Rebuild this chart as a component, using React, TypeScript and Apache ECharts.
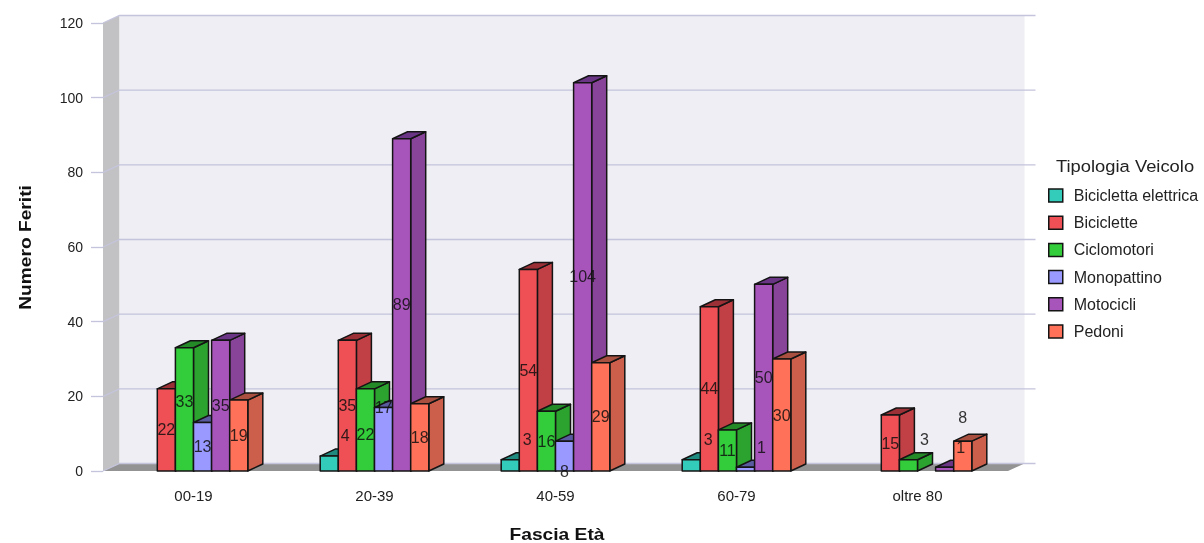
import React, { useEffect, useRef } from "react";
import * as echarts from "echarts";

const categories = ["00-19", "20-39", "40-59", "60-79", "oltre 80"];
const seriesNames = ["Bicicletta elettrica", "Biciclette", "Ciclomotori", "Monopattino", "Motocicli", "Pedoni"];
const biciclettaElettrica = [null, 4, 3, 3, null];
const biciclette = [22, 35, 54, 44, 15];
const ciclomotori = [33, 22, 16, 11, 3];
const monopattino = [13, 17, 8, 1, null];
const motocicli = [35, 89, 104, 50, 1];
const pedoni = [19, 18, 29, 30, 8];
const seriesValues = [biciclettaElettrica, biciclette, ciclomotori, monopattino, motocicli, pedoni];
const yTicks = [0, 20, 40, 60, 80, 100, 120];

const frontColors = ["#33CCBB", "#EE5055", "#33CC3A", "#9999FF", "#A855BB", "#FF7259"];
const topColors = ["#1F8A80", "#9C3037", "#248A28", "#5A5AA0", "#6A3585", "#AA5040"];
const sideColors = ["#27A094", "#C04045", "#2CA32F", "#7A7AC8", "#884499", "#CC5F4C"];

const DX = 15;
const DY = 7;
const WALL_DY = 7.5;
const WALL_DX = 16.5;
const GRID_OVERHANG = 11;

// label shifts from the middle of a bar's front face: "series,category": [dx, dy]
const labelShifts: Record<string, [number, number]> = {
  "2,0": [0, -8],
  "0,1": [16, -28],
  "2,1": [0, 5],
  "3,1": [0, -32],
  "0,2": [17, -26],
  "3,2": [0, 15],
  "0,3": [17, -26],
  "3,3": [16, -22],
  "2,4": [16, -26],
  "4,4": [16, -22],
  "5,4": [0, -39],
};

const wallsRender = (params: any, api: any) => {
  const cs = params.coordSys;
  const y0 = api.coord([0, 0])[1];
  const yT = api.coord([0, 120])[1];
  const l = cs.x, r = cs.x + cs.width;
  return {
    type: "group",
    children: [
      { type: "polygon", shape: { points: [[l, y0], [l, yT], [l + WALL_DX, yT - WALL_DY], [l + WALL_DX, y0 - WALL_DY]] }, style: { fill: "#C2C2C4" } },
      { type: "rect", shape: { x: l + WALL_DX, y: yT - WALL_DY, width: r - l, height: y0 - yT }, style: { fill: "#EEEEF4" } },
      { type: "polygon", shape: { points: [[l, y0], [l + WALL_DX, y0 - WALL_DY], [r + WALL_DX, y0 - WALL_DY], [r, y0]] }, style: { fill: "#939393" } },
    ],
  };
};

const gridRender = (params: any, api: any) => {
  const cs = params.coordSys;
  const y = api.coord([0, api.value(1)])[1];
  const l = cs.x, r = cs.x + cs.width;
  const lineStyle = { stroke: "#C4C4DC", lineWidth: 1.3, fill: "none" };
  return {
    type: "polyline",
    shape: { points: [[l, y], [l + WALL_DX, y - WALL_DY], [r + WALL_DX + GRID_OVERHANG, y - WALL_DY]] },
    style: lineStyle,
  };
};

const barRender = (s: number) => (params: any, api: any) => {
  const cat = api.value(0);
  const v = api.value(1);
  const [cx, y0] = api.coord([cat, 0]);
  const yV = api.coord([cat, v])[1];
  const slot = api.size([1, 0])[0] * 0.1;
  const x0 = cx + (s - 3) * slot;
  const x1 = x0 + slot;
  const edge = { stroke: "#141414", lineWidth: 1.5, lineJoin: "round" };
  return {
    type: "group",
    children: [
      { type: "polygon", shape: { points: [[x1, y0], [x1, yV], [x1 + DX, yV - DY], [x1 + DX, y0 - DY]] }, style: { fill: sideColors[s], ...edge } },
      { type: "polygon", shape: { points: [[x0, yV], [x0 + DX, yV - DY], [x1 + DX, yV - DY], [x1, yV]] }, style: { fill: topColors[s], ...edge } },
      { type: "rect", shape: { x: x0, y: yV, width: slot, height: y0 - yV }, style: { fill: frontColors[s], ...edge } },
    ],
  };
};

const labelRender = (params: any, api: any) => {
  const cat = api.value(0);
  const s = api.value(1);
  const v = api.value(2);
  const [cx] = api.coord([cat, 0]);
  const yM = api.coord([cat, v / 2])[1];
  const slot = api.size([1, 0])[0] * 0.1;
  const [dx, dy] = labelShifts[`${s},${cat}`] || [0, 0];
  return {
    type: "text",
    x: cx + (s - 2.5) * slot + dx,
    y: yM + dy,
    style: {
      text: String(v),
      fill: "rgba(15,15,15,0.85)",
      font: "16px 'Liberation Sans'",
      align: "center",
      verticalAlign: "middle",
    },
  };
};

const pointsOf = (vals: (number | null)[]) =>
  vals.flatMap((v, i) => (v === null ? [] : [[i, v]]));

const labelData = seriesValues.flatMap((vals, s) =>
  vals.flatMap((v, c) => (v === null ? [] : [[c, s, v]]))
);

export default function App() {
  const ref = useRef<HTMLDivElement>(null);
  useEffect(() => {
    const chart = echarts.init(ref.current!, undefined, { renderer: "svg" });
    chart.setOption({
      animation: false,
      backgroundColor: "#fff",
      grid: { left: 103, right: 196, top: 23, bottom: 72, containLabel: false },
      xAxis: {
        type: "category",
        data: categories,
        axisLine: { show: false },
        axisTick: { show: false },
        axisLabel: { color: "#222", fontFamily: "Liberation Sans", fontSize: 15, margin: 17 },
      },
      yAxis: {
        type: "value",
        min: 0,
        max: 120,
        interval: 20,
        splitLine: { show: false },
        axisLine: { show: false },
        axisTick: { show: true, length: 12, lineStyle: { color: "#C4C4DC", width: 1.3 } },
        axisLabel: { color: "#222", fontFamily: "Liberation Sans", fontSize: 14, margin: 20, verticalAlign: "middle", padding: [0, 0, 5, 0] },
      },
      legend: {
        orient: "vertical",
        left: 1043,
        top: 182.5,
        itemWidth: 14,
        itemHeight: 13,
        itemGap: 11.2,
        icon: "rect",
        align: "left",
        data: seriesNames,
        selectedMode: false,
        itemStyle: { borderColor: "#141414", borderWidth: 1.5 },
        textStyle: { color: "#222", fontFamily: "Liberation Sans", fontSize: 16, padding: [0, 0, 3, 6] },
      },
      graphic: [
        { type: "text", x: 1056, y: 166, scaleX: 1.08, style: { text: "Tipologia Veicolo", font: "17px 'Liberation Sans'", fill: "#222", verticalAlign: "middle" } },
        { type: "text", x: 557, y: 535, scaleX: 1.2, style: { text: "Fascia Età", font: "bold 16px 'Liberation Sans'", fill: "#111", align: "center", verticalAlign: "middle" } },
        { type: "text", x: 26, y: 247.5, rotation: Math.PI / 2, scaleX: 1.2, style: { text: "Numero Feriti", font: "bold 16px 'Liberation Sans'", fill: "#111", align: "center", verticalAlign: "middle" } },
      ],
      series: [
        { type: "custom", name: "walls", silent: true, clip: false, renderItem: wallsRender, data: [[0, 0]] },
        { type: "custom", name: "griglia", silent: true, clip: false, renderItem: gridRender, data: yTicks.map((t) => [0, t]), encode: { x: 0, y: 1 } },
        ...seriesNames.map((name, s) => ({
          type: "custom",
          name,
          silent: true,
          clip: false,
          itemStyle: { color: frontColors[s] },
          renderItem: barRender(s),
          encode: { x: 0, y: 1 },
          data: pointsOf(seriesValues[s]),
        })),
        { type: "custom", name: "etichette", silent: true, clip: false, renderItem: labelRender, data: labelData, encode: { x: 0, y: 2 } },
      ],
    });
    return () => chart.dispose();
  }, []);
  return <div ref={ref} style={{ position: "absolute", left: 0, top: 0, width: 1204, height: 543, filter: "blur(0.35px)" }} />;
}
